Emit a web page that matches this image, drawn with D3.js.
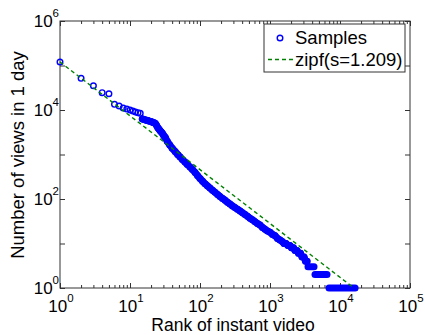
<!DOCTYPE html>
<html>
<head>
<meta charset="utf-8">
<script src="https://cdn.jsdelivr.net/npm/d3@7"></script>
<style>
  body { margin: 0; background: #fff; }
  text { font-family: Arial, "Liberation Sans", sans-serif; fill: #000; }
</style>
</head>
<body>
<svg id="chart" width="425" height="335"></svg>
<script>
// samples: rank -> views in 1 day
const headRank = [1, 2, 3, 4, 5, 6, 7, 8, 9, 10, 11, 12, 13, 14];
const headViews = [120000, 51500, 35000, 24500, 23200, 13400, 12300, 11100, 10500, 10000,
  9500, 9000, 8700, 8400];

// dense part, drawn as a packed band of markers
const bodyRank = [15, 16, 17, 18, 19, 20, 21, 22, 23, 24, 25, 26, 27, 28, 29, 30, 31,
  32, 34, 37, 40, 44, 48, 52, 56, 61, 66, 72, 78, 85, 92, 100, 109, 118, 128,
  139, 151, 164, 178, 193, 210, 228, 247, 268, 291, 316, 343, 373, 405, 439, 477, 518,
  562, 611, 663, 720, 781, 848, 921, 1000, 1086, 1179, 1280, 1389, 1509,
  1585, 1693, 1807, 1931, 2028, 2167, 2276, 2431, 2555, 2729, 2865, 3061, 3210, 3380];
const bodyViews = [6300, 6100, 5900, 5800, 5600, 5500, 5300, 5200, 5000, 4500, 4000, 3700,
  3400, 3200, 3000, 2750, 2550,
  2410, 1990, 1635, 1387, 1175, 1000, 879, 772, 678, 596, 524, 460, 396, 339,
  290, 249, 221, 197, 176, 157, 141, 127, 114, 103, 94, 85, 77, 70, 64, 59, 54, 49, 45, 41,
  37, 34, 31, 28, 26, 23, 21, 19, 18, 16, 15, 13, 12, 11,
  10, 10, 9, 9, 8, 8, 7, 7, 6, 6, 5, 5, 4, 4];

// low counts: runs of equal views (first rank, last rank)
const runViews = [3, 2, 1];
const runFirst = [3490, 4394, 6966];
const runLast = [4254, 6518, 16430];

// zipf fit end points (straight line on log-log)
const zipfRank = [1, 15800];
const zipfViews = [120000, 1];

const xTickExp = [0, 1, 2, 3, 4, 5];
const yTickExp = [0, 2, 4, 6];
const legendLabels = ["Samples", "zipf(s=1.209)"];

const svg = d3.select("#chart");
const mLeft = 60, mRight = 410, mTop = 21, mBottom = 288;

const x = d3.scaleLog().domain([1, 1e5]).range([mLeft, mRight]);
const y = d3.scaleLog().domain([1, 1e6]).range([mBottom, mTop]);

const head = headRank.map((r, i) => ({ r: r, v: headViews[i] }));
const body = bodyRank.map((r, i) => ({ r: r, v: bodyViews[i] }));
const runs = runViews.map((v, i) => [{ r: runFirst[i], v: v }, { r: runLast[i], v: v }]);

// minor ticks on x (2..9 per decade)
const xMinor = [];
for (let e = 0; e < 5; e++) for (let k = 2; k <= 9; k++) xMinor.push(k * Math.pow(10, e));
const xMajor = xTickExp.map(e => Math.pow(10, e));
const yMajor = d3.range(0, 7).map(e => Math.pow(10, e));

const axisCol = "#333";
const blue = "#0000ff";

function styleAxis(g) {
  g.select(".domain").remove();
  g.selectAll("line").attr("stroke", axisCol);
  g.selectAll("text").remove();
}

svg.append("g").attr("transform", `translate(0,${mBottom})`)
  .call(d3.axisBottom(x).tickValues(xMinor).tickSize(-3)).call(styleAxis);
svg.append("g").attr("transform", `translate(0,${mBottom})`)
  .call(d3.axisBottom(x).tickValues(xMajor).tickSize(-5)).call(styleAxis);
svg.append("g").attr("transform", `translate(0,${mTop})`)
  .call(d3.axisTop(x).tickValues(xMinor).tickSize(-3)).call(styleAxis);
svg.append("g").attr("transform", `translate(0,${mTop})`)
  .call(d3.axisTop(x).tickValues(xMajor).tickSize(-5)).call(styleAxis);
svg.append("g").attr("transform", `translate(${mLeft},0)`)
  .call(d3.axisLeft(y).tickValues(yMajor).tickSize(-5)).call(styleAxis);
svg.append("g").attr("transform", `translate(${mRight},0)`)
  .call(d3.axisRight(y).tickValues(yMajor).tickSize(-5)).call(styleAxis);

svg.append("rect")
  .attr("x", mLeft).attr("y", mTop)
  .attr("width", mRight - mLeft).attr("height", mBottom - mTop)
  .attr("fill", "none").attr("stroke", axisCol).attr("stroke-width", 1);

// tick labels as 10^n
const xl = svg.append("g").selectAll("text").data(xTickExp).join("text")
  .attr("x", d => x(Math.pow(10, d)) + 1)
  .attr("y", 312)
  .attr("text-anchor", "middle");
xl.append("tspan").attr("font-size", 17).text("10");
xl.append("tspan").attr("font-size", 11.5).attr("dy", -10).text(d => d);

const yl = svg.append("g").selectAll("text").data(yTickExp).join("text")
  .attr("x", 59)
  .attr("y", d => y(Math.pow(10, d)) + 6)
  .attr("text-anchor", "end");
yl.append("tspan").attr("font-size", 17).text("10");
yl.append("tspan").attr("font-size", 11.5).attr("dy", -10).text(d => d);

// axis titles
svg.append("text").attr("x", 233).attr("y", 331)
  .attr("text-anchor", "middle").attr("font-size", 17.5)
  .text("Rank of instant video");
svg.append("text")
  .attr("transform", "translate(24,155) rotate(-90)")
  .attr("text-anchor", "middle").attr("font-size", 18.5)
  .text("Number of views in 1 day");

const line = d3.line().x(d => x(d.r)).y(d => y(d.v));

// packed markers: the band they form
svg.append("path")
  .datum(body)
  .attr("fill", "none").attr("stroke", blue)
  .attr("stroke-width", 7).attr("stroke-linejoin", "round").attr("stroke-linecap", "round")
  .attr("d", line);
svg.append("g").selectAll("path").data(runs).join("path")
  .attr("fill", "none").attr("stroke", blue)
  .attr("stroke-width", 7).attr("stroke-linecap", "round")
  .attr("d", line);

svg.append("g").selectAll("circle").data(head.concat(body)).join("circle")
  .attr("cx", d => x(d.r))
  .attr("cy", d => y(d.v))
  .attr("r", 2.8)
  .attr("fill", "none")
  .attr("stroke", blue)
  .attr("stroke-width", 1.4);

// zipf line
const zipf = zipfRank.map((r, i) => ({ r: r, v: zipfViews[i] }));
svg.append("path")
  .datum(zipf)
  .attr("fill", "none")
  .attr("stroke", "#008000")
  .attr("stroke-width", 1.4)
  .attr("stroke-dasharray", "4,3")
  .attr("d", line);

// legend
const lg = svg.append("g");
lg.append("rect").attr("x", 264).attr("y", 24).attr("width", 141).attr("height", 48)
  .attr("fill", "#fff").attr("stroke", axisCol).attr("stroke-width", 1);
lg.append("circle").attr("cx", 280).attr("cy", 38).attr("r", 2.8)
  .attr("fill", "none").attr("stroke", blue).attr("stroke-width", 1.4);
lg.append("line").attr("x1", 268).attr("x2", 293).attr("y1", 59.5).attr("y2", 59.5)
  .attr("stroke", "#008000").attr("stroke-width", 1.4).attr("stroke-dasharray", "4,3");
lg.selectAll("text.lab").data(legendLabels).join("text")
  .attr("class", "lab")
  .attr("x", 295)
  .attr("y", (d, i) => 44 + i * 21.5)
  .attr("font-size", 18.5)
  .text(d => d);
</script>
</body>
</html>
